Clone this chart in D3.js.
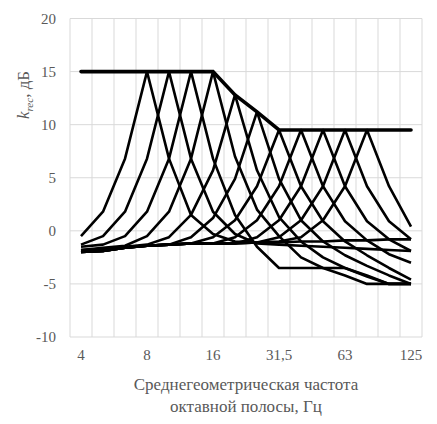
<!DOCTYPE html><html><head><meta charset="utf-8"><script src="https://cdn.jsdelivr.net/npm/d3@7"></script>
<style>body{margin:0;background:#fff}</style></head><body>
<svg id="c" width="437" height="424" font-family="'Liberation Serif','DejaVu Serif','Times New Roman',serif"></svg>
<script>
const categories=["4","5","6,3","8","10","12,5","16","20","25","31,5","40","50","63","80","100","125"];
const tickLabels=["4","8","16","31,5","63","125"];
const envelope=[15,15,15,15,15,15,15,12.8,11.2,9.5,9.5,9.5,9.5,9.5,9.5,9.5];
const c8=[-0.5,1.8,6.8,15,6.8,1.5,-0.3,-1.0,-1.1,-1.1,-1.0,-1.0,-0.9,-0.9,-0.8,-0.8];
const c10=[-1.3,-0.5,1.8,6.8,15,6.8,1.8,-0.3,-1.2,-1.3,-1.4,-1.5,-1.6,-1.7,-1.8,-1.9];
const c12=[-1.5,-1.3,-0.5,1.8,6.8,15,6.8,1.5,-1.5,-3.5,-3.5,-3.5,-3.5,-4.2,-5,-5];
const c16=[-1.8,-1.6,-1.4,-0.5,1.8,6.8,15,7,2,-0.5,-2.5,-3.5,-4.2,-5,-5,-5];
const c20=[-1.8,-1.7,-1.5,-1.3,-0.6,1.5,5.7,12.8,5.7,1.3,-1.0,-2.5,-3.5,-4.3,-5,-5];
const c25=[-1.9,-1.8,-1.6,-1.4,-1.3,-0.6,1.2,4.9,11.2,4.9,1.0,-1.0,-2.3,-3.3,-4.2,-5];
const c31=[-2,-1.9,-1.6,-1.4,-1.3,-1.2,-0.6,1.0,4.2,9.5,4.2,0.9,-1.0,-2.3,-3.5,-4.6];
const c40=[-2,-1.9,-1.6,-1.4,-1.3,-1.2,-1.2,-0.6,1.0,4.2,9.5,4.2,0.9,-0.9,-2.2,-3.0];
const c50=[-2,-1.9,-1.6,-1.4,-1.3,-1.2,-1.2,-1.2,-0.6,1.0,4.2,9.5,4.2,0.9,-0.8,-1.9];
const c63=[-2,-1.9,-1.6,-1.4,-1.3,-1.2,-1.2,-1.2,-1.1,-0.6,1.0,4.2,9.5,4.2,0.9,-0.8];
const c80=[-2,-1.9,-1.6,-1.4,-1.3,-1.2,-1.2,-1.2,-1.1,-1.0,-0.6,1.0,4.2,9.5,4.2,0.4];
const curves=[c8,c10,c12,c16,c20,c25,c31,c40,c50,c63,c80];
const svg=d3.select("#c");
const x=d3.scaleBand().domain(categories).range([70,422]);
const y=d3.scaleLinear().domain([-10,20]).range([337,18.5]);
const g=svg.append("g");
x.domain().concat(["_end"]).forEach((d,i)=>{const xx=70+i*x.bandwidth();g.append("line").attr("x1",xx).attr("x2",xx).attr("y1",y(20)).attr("y2",y(-10)).attr("stroke","#d9d9d9");});
y.ticks(6).forEach(t=>{g.append("line").attr("x1",70).attr("x2",422).attr("y1",y(t)).attr("y2",y(t)).attr("stroke","#d9d9d9");
 g.append("text").attr("x",56).attr("y",y(t)+5).attr("text-anchor","end").attr("font-size",15).attr("fill","#595959").text(t);});
tickLabels.forEach(t=>g.append("text").attr("x",x(t)+x.bandwidth()/2).attr("y",360).attr("text-anchor","middle").attr("font-size",15).attr("fill","#595959").text(t));
const line=d3.line().x((d,i)=>x(categories[i])+x.bandwidth()/2).y(d=>y(d));
curves.forEach(c=>svg.append("path").attr("d",line(c)).attr("fill","none").attr("stroke","#000").attr("stroke-width",2.6).attr("stroke-linejoin","round"));
svg.append("path").attr("d",line(envelope)).attr("fill","none").attr("stroke","#000").attr("stroke-width",3.6).attr("stroke-linecap","round");
svg.append("text").attr("x",246).attr("y",390).attr("text-anchor","middle").attr("font-size",17).attr("fill","#595959").text("Среднегеометрическая частота");
svg.append("text").attr("x",246).attr("y",412).attr("text-anchor","middle").attr("font-size",17).attr("fill","#595959").text("октавной полосы, Гц");
const yl=svg.append("text").attr("transform","translate(29,95) rotate(-90)").attr("text-anchor","middle").attr("font-size",17).attr("fill","#595959");
yl.append("tspan").attr("font-style","italic").text("k");
yl.append("tspan").attr("font-style","italic").attr("font-size",11).attr("dy",4).text("rec");
yl.append("tspan").attr("dy",-4).text(", дБ");
</script></body></html>
